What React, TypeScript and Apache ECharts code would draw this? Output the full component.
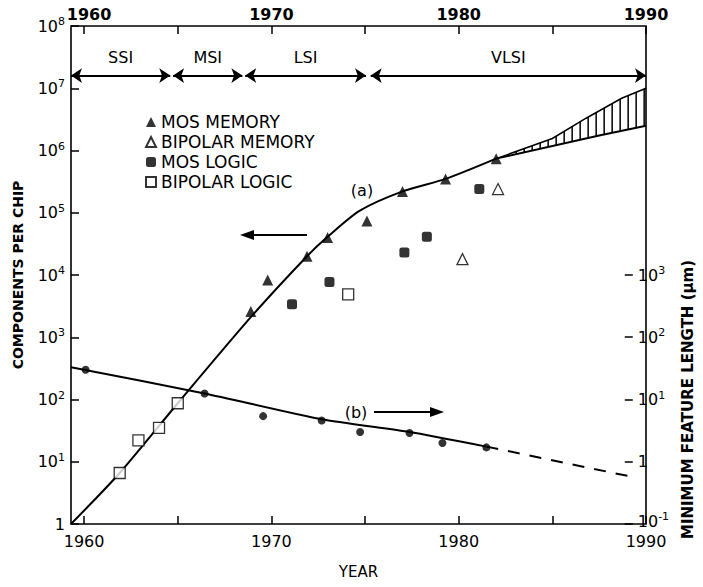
import React, { useEffect, useRef } from 'react';
import * as echarts from 'echarts';

const FONT = 'DejaVu Sans';

const X_MIN = 1959.3;
const X_MAX = 1990;
const yearLabels = [1960, 1970, 1980, 1990];
const yearTicks = [1960, 1965, 1970, 1975, 1980, 1985, 1990];

// Curve (a): components per chip (left axis)
const curveA = [
  [1959.3, 1], [1961.9, 6.6], [1965.0, 87], [1968.9, 2100], [1971.9, 2.0e4],
  [1973.0, 4.1e4], [1974.7, 1.07e5], [1977.0, 2.2e5], [1979.3, 3.5e5], [1982.0, 7.4e5],
];
// Projection band (hatched)
const bandUpper = [[1982.0, 7.4e5], [1985.0, 1.56e6], [1986.8, 3.3e6], [1988.7, 6.9e6], [1990.0, 1.0e7]];
const bandLower = [[1982.0, 7.4e5], [1987.5, 1.74e6], [1990.0, 2.5e6]];

// Markers
const mosMemory = [
  [1968.9, 2600], [1969.8, 8300], [1971.9, 2.0e4], [1973.0, 4.0e4],
  [1975.1, 7.4e4], [1977.0, 2.2e5], [1979.3, 3.5e5], [1982.0, 7.4e5],
];
const bipolarMemory = [[1980.2, 1.8e4], [1982.1, 2.4e5]];
const mosLogic = [[1971.1, 3400], [1973.1, 7700], [1977.1, 2.3e4], [1978.3, 4.1e4], [1981.1, 2.4e5]];
const bipolarLogic = [[1961.9, 6.6], [1962.9, 22], [1964.0, 35], [1965.0, 87], [1974.1, 4900]];

// Curve (b): minimum feature length (right axis, µm)
const curveB = [[1959.3, 33], [1966.6, 12.5], [1973.0, 4.8], [1977.8, 3.0], [1982.0, 1.75]];
const curveBProjection = [[1982.0, 1.75], [1990.0, 0.57]];
const featureDots = [
  [1960.1, 30], [1966.6, 12.5], [1969.8, 5.4], [1973.0, 4.6],
  [1975.1, 3.0], [1977.8, 2.9], [1979.6, 2.0], [1982.0, 1.7],
];

// Technology eras
const eraNames = ['SSI', 'MSI', 'LSI', 'VLSI'];
const eraStart = [1959.3, 1964.75, 1968.6, 1975.3];
const eraEnd = [1964.6, 1968.45, 1975.05, 1990];
const ERA_LEVEL = 1.6e7;

export default function App() {
  const ref = useRef<HTMLDivElement>(null);
  useEffect(() => {
    if (!ref.current) return;
    const chart = echarts.init(ref.current, null, { renderer: 'svg' });

    const richLabel = {
      b: { fontSize: 16, fontFamily: FONT, color: '#000', lineHeight: 20 },
      s: { fontSize: 11, fontFamily: FONT, color: '#000', padding: [0, 0, 9, 0] },
      bb: { fontSize: 16, fontFamily: FONT, color: '#000', lineHeight: 20, padding: [0, 0, 6, 0] },
      sb: { fontSize: 11, fontFamily: FONT, color: '#000', padding: [0, 0, 15, 0] },
    };
    const supLabel = (e: number, bottom: boolean) => {
      if (e === 0) return '{b|1}';
      if (bottom) return `{bb|10}{sb|${e}}`;
      return `{b|10}{s|${e}}`;
    };

    const interp = (pts: number[][], x: number) => {
      for (let i = 0; i < pts.length - 1; i++) {
        const [x0, y0] = pts[i];
        const [x1, y1] = pts[i + 1];
        if (x >= x0 && x <= x1) return y0 + ((y1 - y0) * (x - x0)) / (x1 - x0 || 1);
      }
      return pts[pts.length - 1][1];
    };

    const option: any = {
      animation: false,
      backgroundColor: '#fff',
      textStyle: { fontFamily: FONT, color: '#000' },
      grid: [
        { left: 71, right: 57, top: 26, bottom: 63, show: true, borderColor: '#000', borderWidth: 1.6, backgroundColor: 'transparent' },
        { left: 71, right: 57, top: 275, bottom: 63, show: false },
      ],
      legend: {
        orient: 'vertical',
        left: 140,
        top: 108,
        itemWidth: 10,
        itemHeight: 10,
        itemGap: 2,
        textStyle: { fontSize: 17, fontFamily: FONT, color: '#000', lineHeight: 18 },
        data: ['MOS MEMORY', 'BIPOLAR MEMORY', 'MOS LOGIC', 'BIPOLAR LOGIC'],
      },
      xAxis: [
        {
          type: 'value', gridIndex: 0, position: 'bottom', min: X_MIN, max: X_MAX,
          axisLine: { show: false }, splitLine: { show: false },
          axisTick: { inside: true, length: 8, customValues: yearTicks, lineStyle: { color: '#000', width: 1.5 } },
          axisLabel: {
            customValues: yearLabels, formatter: (v: number) => String(Math.round(v)),
            fontSize: 16, fontFamily: FONT, color: '#000', margin: 9,
          },
          name: 'YEAR', nameLocation: 'middle', nameGap: 40,
          nameTextStyle: { fontSize: 15, fontFamily: FONT, color: '#000' },
        },
        {
          type: 'value', gridIndex: 0, position: 'top', min: X_MIN, max: X_MAX,
          axisLine: { show: false }, splitLine: { show: false },
          axisTick: { inside: true, length: 8, customValues: yearTicks, lineStyle: { color: '#000', width: 1.5 } },
          axisLabel: {
            customValues: yearLabels,
            formatter: (v: number) => {
              const y = Math.round(v);
              return y === 1960 ? `{l|${y}}` : `{n|${y}}`;
            },
            rich: {
              n: { fontSize: 16, fontWeight: 'bold', fontFamily: FONT, color: '#000' },
              l: { fontSize: 16, fontWeight: 'bold', fontFamily: FONT, color: '#000', padding: [0, 0, 0, 10] },
            },
            margin: 4,
          },
        },
        {
          type: 'value', gridIndex: 1, min: X_MIN, max: X_MAX, show: false,
        },
      ],
      yAxis: [
        {
          type: 'log', logBase: 10, gridIndex: 0, position: 'left', min: 1, max: 1e8, splitNumber: 8,
          axisLine: { show: false }, splitLine: { show: false }, minorTick: { show: false },
          axisTick: { inside: true, length: 8, lineStyle: { color: '#000', width: 1.5 } },
          axisLabel: {
            margin: 6,
            formatter: (v: number) => supLabel(Math.round(Math.log10(v)), false),
            rich: richLabel,
          },
          name: 'COMPONENTS PER CHIP', nameLocation: 'middle', nameRotate: 90, nameGap: 46,
          nameTextStyle: { fontSize: 14, fontWeight: 'bold', fontFamily: FONT, color: '#000' },
        },
        {
          type: 'log', logBase: 10, gridIndex: 1, position: 'right', min: 0.1, max: 1000, splitNumber: 4,
          axisLine: { show: false }, splitLine: { show: false }, minorTick: { show: false },
          axisTick: { inside: true, length: 8, lineStyle: { color: '#000', width: 1.5 } },
          axisLabel: {
            margin: 5,
            formatter: (v: number) => {
              const e = Math.round(Math.log10(v));
              return supLabel(e, e === -1);
            },
            rich: richLabel,
          },
          name: 'MINIMUM FEATURE LENGTH (μm)', nameLocation: 'middle', nameRotate: 90, nameGap: 42,
          nameTextStyle: { fontSize: 15, fontWeight: 'bold', fontFamily: FONT, color: '#000' },
        },
      ],
      series: [
        {
          name: 'curve a', type: 'line', xAxisIndex: 0, yAxisIndex: 0, data: curveA,
          smooth: 0.25, showSymbol: false, symbol: 'none',
          lineStyle: { color: '#000', width: 2 }, z: 3,
          markLine: {
            silent: true,
            symbol: ['arrow', 'arrow'],
            symbolSize: 11,
            lineStyle: { color: '#000', width: 2, type: 'solid' },
            label: {
              show: true, position: 'insideMiddleTop', distance: 10,
              formatter: (p: any) => p.name, fontSize: 16, fontFamily: FONT, color: '#000',
            },
            data: eraNames.map((n, i) => [
              { name: n, coord: [eraStart[i], ERA_LEVEL] },
              { coord: [eraEnd[i], ERA_LEVEL] },
            ]),
          },
        },
        {
          name: 'band', type: 'custom', xAxisIndex: 0, yAxisIndex: 0,
          data: [[1985, 1e6]],
          renderItem: (_params: any, api: any) => {
            const up = bandUpper.map((p) => api.coord(p));
            const lo = bandLower.map((p) => api.coord(p));
            const st = { stroke: '#000', lineWidth: 1.5, fill: 'none' };
            const children: any[] = [
              { type: 'polyline', shape: { points: up }, style: st },
              { type: 'polyline', shape: { points: lo }, style: { ...st, lineWidth: 2 } },
            ];
            const xEnd = lo[lo.length - 1][0];
            for (let x = lo[0][0] + 12; x <= xEnd - 1; x += 8) {
              children.push({ type: 'line', shape: { x1: x, y1: interp(lo, x), x2: x, y2: interp(up, x) }, style: st });
            }
            return { type: 'group', children };
          },
          silent: true, z: 2,
        },
        {
          name: 'MOS MEMORY', type: 'scatter', xAxisIndex: 0, yAxisIndex: 0, data: mosMemory,
          symbol: 'triangle', symbolSize: 11, itemStyle: { color: '#000' }, z: 4,
        },
        {
          name: 'BIPOLAR MEMORY', type: 'scatter', xAxisIndex: 0, yAxisIndex: 0, data: bipolarMemory,
          symbol: 'triangle', symbolSize: 11, itemStyle: { color: '#fff', borderColor: '#000', borderWidth: 1.3 }, z: 4,
        },
        {
          name: 'MOS LOGIC', type: 'scatter', xAxisIndex: 0, yAxisIndex: 0, data: mosLogic,
          symbol: 'roundRect', symbolSize: 10, itemStyle: { color: '#000' }, z: 4,
        },
        {
          name: 'BIPOLAR LOGIC', type: 'scatter', xAxisIndex: 0, yAxisIndex: 0, data: bipolarLogic,
          symbol: 'rect', symbolSize: 11, itemStyle: { color: '#fff', borderColor: '#000', borderWidth: 1.3 }, z: 4,
        },
        {
          name: 'curve b', type: 'line', xAxisIndex: 2, yAxisIndex: 1, data: curveB,
          smooth: 0.2, showSymbol: false, symbol: 'none',
          lineStyle: { color: '#000', width: 2 }, z: 3,
        },
        {
          name: 'curve b projection', type: 'line', xAxisIndex: 2, yAxisIndex: 1, data: curveBProjection,
          showSymbol: false, symbol: 'none',
          lineStyle: { color: '#000', width: 2, type: [12, 10] }, z: 3,
        },
        {
          name: 'feature points', type: 'scatter', xAxisIndex: 2, yAxisIndex: 1, data: featureDots,
          symbol: 'circle', symbolSize: 8, itemStyle: { color: '#000' }, z: 4,
        },
      ],
      graphic: [
        { type: 'text', x: 362, y: 190, style: { text: '(a)', fontSize: 16, fontFamily: FONT, fill: '#000', align: 'center', verticalAlign: 'middle' } },
        { type: 'line', shape: { x1: 248, y1: 235, x2: 307, y2: 235 }, style: { stroke: '#000', lineWidth: 1.8 } },
        { type: 'polygon', shape: { points: [[240, 235], [254, 230], [254, 240]] }, style: { fill: '#000' } },
        { type: 'text', x: 356, y: 412, style: { text: '(b)', fontSize: 16, fontFamily: FONT, fill: '#000', align: 'center', verticalAlign: 'middle' } },
        { type: 'line', shape: { x1: 374, y1: 412, x2: 436, y2: 412 }, style: { stroke: '#000', lineWidth: 1.8 } },
        { type: 'polygon', shape: { points: [[444, 412], [430, 407], [430, 417]] }, style: { fill: '#000' } },
      ],
    };

    chart.setOption(option);
    return () => chart.dispose();
  }, []);

  return <div ref={ref} style={{ width: 703, height: 587, position: 'absolute', left: 0, top: 0 }} />;
}
